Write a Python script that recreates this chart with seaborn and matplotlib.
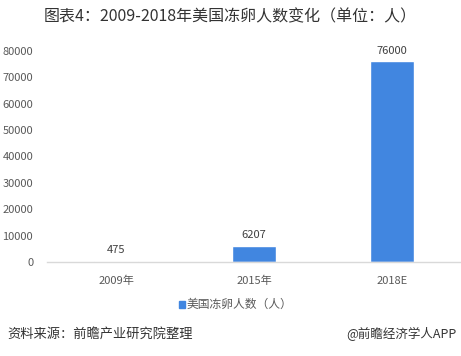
import matplotlib
matplotlib.use("Agg")
import matplotlib.pyplot as plt
import seaborn as sns
import pandas as pd

categories = ["2009年", "2015年", "2018E"]
values = [475, 6207, 76000]
yticks = [0, 10000, 20000, 30000, 40000, 50000, 60000, 70000, 80000]
series_name = "美国冻卵人数（人）"
title = "图表4：2009-2018年美国冻卵人数变化（单位：人）"
source = "资料来源：前瞻产业研究院整理"
credit = "@前瞻经济学人APP"

sns.set_theme(style="white")
plt.rcParams['font.family'] = ['Noto Sans CJK SC', 'DejaVu Sans']

df = pd.DataFrame({"cat": categories, "val": values, "series": series_name})

fig = plt.figure(figsize=(4.61, 3.56), dpi=100)
ax = fig.add_axes([0.102, 0.264, 0.898, 0.593])
blue = "#4186E0"
sns.barplot(data=df, x="cat", y="val", hue="series", palette=[blue],
            width=0.32, ax=ax, legend=False, saturation=1)

ax.set_ylim(0, 80000)
ax.set_yticks(yticks)
ax.set_yticklabels([str(t) for t in yticks])
ax.set_xlim(-0.5, 2.5)
ax.set_xlabel("")
ax.set_ylabel("")
for s in ["top", "right", "left"]:
    ax.spines[s].set_visible(False)
ax.spines["bottom"].set_color("#D9D9D9")
ax.spines["bottom"].set_linewidth(1)
ax.tick_params(axis="both", length=0, labelsize=8, colors="#595959", pad=8)
ax.tick_params(axis="y", pad=10)
ax.tick_params(axis="x", pad=10)

for i, v in enumerate(values):
    ax.text(i, v + 2200, str(v), ha="center", va="bottom", fontsize=8, color="#404040")

fig.text(0.5, 0.952, title, ha="center", va="center", fontsize=11.5, color="#333333")

# legend
fig.patches.append(plt.Rectangle((0.388, 0.135), 0.013, 0.02, transform=fig.transFigure,
                                 color=blue, figure=fig))
fig.text(0.405, 0.145, series_name, ha="left", va="center", fontsize=8.5, color="#595959")

fig.text(0.015, 0.062, source, ha="left", va="center", fontsize=9.5, color="#333333",
         style="italic")
fig.text(0.99, 0.062, credit, ha="right", va="center", fontsize=9, color="#333333")

fig.savefig("out.png", dpi=100, facecolor="white")
